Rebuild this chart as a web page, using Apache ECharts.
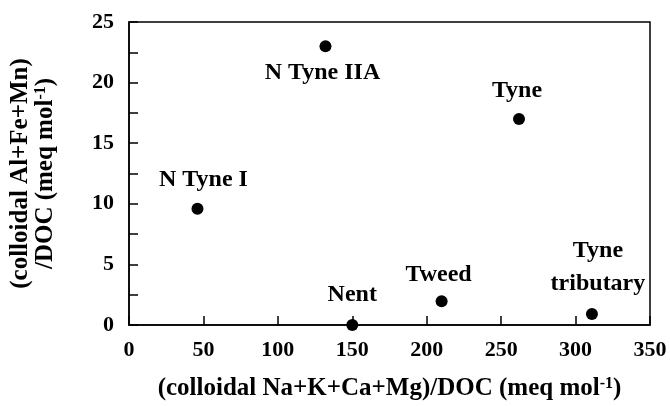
<!DOCTYPE html>
<html><head><meta charset="utf-8">
<script src="https://cdn.jsdelivr.net/npm/echarts@6/dist/echarts.min.js"></script>
<style>html,body{margin:0;padding:0;background:#fff}#c{width:670px;height:406px}</style>
</head><body><div id="c"></div>
<script>
const sites = ['N Tyne I', 'N Tyne IIA', 'Tyne', 'Nent', 'Tweed', 'Tyne\ntributary'];
const xVals = [46, 132, 262, 150, 210, 311];
const yVals = [9.6, 23.0, 17.0, 0, 1.95, 0.9];
const xTicks = [0, 50, 100, 150, 200, 250, 300, 350];
const yTicks = [0, 5, 10, 15, 20, 25];

const labelOffsets = [[6, -3], [-3, 1], [-2, -2], [0, -4], [-3, -1], [6, -3]];
const font = 'Liberation Serif';
const chart = echarts.init(document.getElementById('c'));
chart.setOption({
  animation: false,
  grid: { left: 129, right: 20, top: 22, bottom: 81, show: true, borderColor: '#000', borderWidth: 1.5 },
  xAxis: {
    type: 'value', min: xTicks[0], max: xTicks[xTicks.length - 1], interval: 50,
    axisLine: { lineStyle: { color: '#000', width: 1.5 } },
    axisTick: { inside: true, length: 9, lineStyle: { color: '#000', width: 1.5 } },
    splitLine: { show: false },
    axisLabel: { color: '#000', fontFamily: font, fontSize: 22, fontWeight: 'bold', margin: 14 },
    name: '{t|(colloidal Na+K+Ca+Mg)/DOC (meq mol}{s|-1}{t|)}',
    nameLocation: 'middle', nameGap: 51,
    nameTextStyle: { rich: {
      t: { fontFamily: font, fontSize: 25, fontWeight: 'bold', color: '#000' },
      s: { fontFamily: font, fontSize: 16, fontWeight: 'bold', color: '#000', verticalAlign: 'top', lineHeight: 16 } } }
  },
  yAxis: {
    type: 'value', min: yTicks[0], max: yTicks[yTicks.length - 1], interval: 5,
    axisLine: { lineStyle: { color: '#000', width: 1.5 } },
    axisTick: { inside: true, length: 9, lineStyle: { color: '#000', width: 1.5 } },
    minorTick: { show: true, splitNumber: 2, length: 9, lineStyle: { color: '#000', width: 1.5 } },
    splitLine: { show: false },
    axisLabel: { color: '#000', fontFamily: font, fontSize: 22, fontWeight: 'bold', margin: 15 },
    name: '{t|(colloidal Al+Fe+Mn)}\n{t|/DOC (meq mol}{s|-1}{t|)}',
    nameLocation: 'middle', nameGap: 71, nameRotate: 90,
    nameTextStyle: { lineHeight: 25, rich: {
      t: { fontFamily: font, fontSize: 25, fontWeight: 'bold', color: '#000', lineHeight: 25 },
      s: { fontFamily: font, fontSize: 16, fontWeight: 'bold', color: '#000', lineHeight: 25, verticalAlign: 'top' } } }
  },
  series: [{
    type: 'scatter', symbolSize: 12, itemStyle: { color: '#000', opacity: 1 },
    data: sites.map((s, i) => ({
      value: [xVals[i], yVals[i]], name: s,
      label: { show: true, formatter: s, position: i === 1 ? 'bottom' : 'top', distance: 5,
        offset: labelOffsets[i], color: '#000', fontFamily: font, fontSize: 24, fontWeight: 'bold',
        lineHeight: i === 5 ? 33 : 30 }
    }))
  }]
});
</script></body></html>
